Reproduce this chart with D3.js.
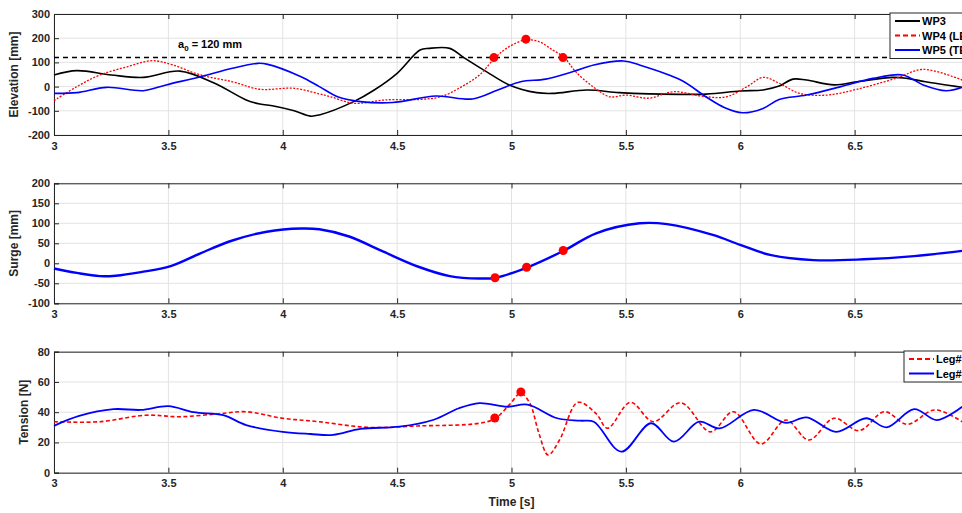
<!DOCTYPE html>
<html lang="en">
<head>
<meta charset="utf-8">
<title>Elevation, surge and tension</title>
<style>
  body { margin: 0; background: #fff; }
  svg { font-family: "Liberation Sans", Arial, sans-serif; font-weight: bold; }
</style>
</head>
<body>
<svg id="chart" width="962" height="513"></svg>
<script src="https://d3js.org/d3.v7.min.js"></script>
<script>
// ---- data ----
const xTicks = [3, 3.5, 4, 4.5, 5, 5.5, 6, 6.5, 7];

const wp3T = [3.0, 3.10, 3.25, 3.39, 3.55, 3.70, 3.84, 3.90, 3.96, 4.05, 4.12, 4.16, 4.31, 4.40, 4.50, 4.60, 4.64, 4.73, 4.79, 4.89, 4.99, 5.11, 5.18, 5.33, 5.47, 5.60, 5.85, 6.00, 6.10, 6.17, 6.23, 6.29, 6.41, 6.51, 6.67, 6.73, 6.81, 6.97];
const wp3V = [48, 66, 48, 38, 64, 15, -55, -72, -80, -100, -122, -117, -62, -14, 55, 151, 158, 158, 121, 62, 7, -25, -28, -14, -25, -30, -31, -18, -14, 2, 31, 27, 7, 20, 38, 34, 20, -3];

const wp4T = [3.0, 3.10, 3.20, 3.32, 3.43, 3.52, 3.64, 3.78, 3.90, 4.05, 4.16, 4.21, 4.31, 4.45, 4.60, 4.69, 4.77, 4.86, 4.93, 4.99, 5.06, 5.12, 5.18, 5.23, 5.28, 5.36, 5.43, 5.50, 5.60, 5.71, 5.85, 5.94, 6.03, 6.10, 6.17, 6.26, 6.38, 6.51, 6.68, 6.80, 6.97];
const wp4V = [-58, 0, 48, 82, 107, 89, 48, 20, -11, -7, -30, -42, -69, -55, -53, -42, -7, 48, 121, 165, 193, 186, 151, 121, 62, -3, -42, -35, -48, -21, -42, -42, 0, 38, 14, -28, -35, -11, 34, 71, 27];

const wp5T = [3.0, 3.10, 3.23, 3.39, 3.49, 3.64, 3.78, 3.89, 3.93, 4.08, 4.16, 4.24, 4.34, 4.48, 4.67, 4.83, 4.94, 5.04, 5.15, 5.27, 5.36, 5.49, 5.56, 5.74, 5.85, 5.93, 6.01, 6.10, 6.17, 6.29, 6.44, 6.58, 6.71, 6.80, 6.90, 6.97];
const wp5V = [-28, -25, -3, -17, 7, 41, 76, 96, 93, 41, 0, -42, -62, -66, -39, -51, -14, 20, 31, 62, 89, 106, 89, 27, -42, -86, -108, -90, -53, -35, 0, 34, 48, 7, -17, -3];

const surgeT = [3.0, 3.10, 3.20, 3.27, 3.38, 3.51, 3.64, 3.78, 3.93, 4.08, 4.16, 4.29, 4.44, 4.59, 4.73, 4.86, 4.93, 5.07, 5.23, 5.37, 5.56, 5.68, 5.88, 6.00, 6.13, 6.32, 6.54, 6.76, 6.97];
const surgeV = [-13, -24, -32, -31, -22, -7, 25, 57, 79, 87, 85, 67, 29, -8, -32, -38, -36, -10, 32, 75, 100, 98, 71, 46, 21, 8, 10, 18, 31];
const surgeMarkT = [4.928, 5.066, 5.226];
const surgeMarkV = [-36, -10, 32];

const elevMarkT = [4.923, 5.063, 5.225];
const elevMarkV = [120, 196, 120];
const a0 = 120;

const leg3T = [3.0, 3.20, 3.40, 3.55, 3.71, 3.84, 4.00, 4.16, 4.37, 4.59, 4.86, 4.93, 4.99, 5.04, 5.08, 5.12, 5.16, 5.21, 5.29, 5.37, 5.42, 5.52, 5.62, 5.74, 5.87, 5.97, 6.09, 6.20, 6.30, 6.41, 6.52, 6.63, 6.73, 6.85, 6.97];
const leg3V = [33.7, 33.7, 38, 37, 38.8, 40.3, 36, 33.7, 30, 30.9, 32.7, 36, 44.8, 52.5, 46, 26, 11.7, 21.6, 46.5, 39, 29.4, 46.5, 33.7, 46.3, 27, 40.3, 19, 34.8, 21.6, 36, 27.8, 40.3, 32, 41.5, 33.7];

const leg4T = [3.0, 3.11, 3.26, 3.38, 3.50, 3.61, 3.74, 3.84, 4.00, 4.12, 4.22, 4.34, 4.51, 4.66, 4.77, 4.86, 4.98, 5.07, 5.20, 5.30, 5.36, 5.48, 5.61, 5.71, 5.82, 5.91, 6.06, 6.20, 6.29, 6.42, 6.55, 6.64, 6.76, 6.86, 6.97];
const leg4V = [31, 37.5, 42, 41.5, 44, 40, 38, 31.5, 27, 25.6, 25, 29, 30.4, 35, 42.6, 46, 43.6, 45, 36, 34.4, 33.7, 13.9, 32.7, 20.5, 33.7, 29.3, 41.5, 33, 36.6, 27, 36, 30, 42, 34.8, 43.6];
const tensMarkT = [4.927, 5.041];
const tensMarkV = [36.2, 53.4];

// ---- layout ----
const svg = d3.select("#chart");
const x = d3.scaleLinear().domain([3, 7]).range([54, 969]);
const frame = "#262626";
const grid = "#e3e3e3";

function zip(ts, vs) { return ts.map((t, i) => [t, vs[i]]); }

function panel(domain, range, yTicks, label, labelX) {
  const y = d3.scaleLinear().domain(domain).range(range);
  const g = svg.append("g");
  // grid
  g.selectAll(".gx").data(xTicks).enter().append("line")
    .attr("x1", d => x(d)).attr("x2", d => x(d))
    .attr("y1", range[1]).attr("y2", range[0])
    .attr("stroke", grid).attr("stroke-width", 1);
  g.selectAll(".gy").data(yTicks).enter().append("line")
    .attr("x1", x.range()[0]).attr("x2", x.range()[1])
    .attr("y1", d => y(d)).attr("y2", d => y(d))
    .attr("stroke", grid).attr("stroke-width", 1);
  // axes (the last x label falls outside the window, as in the original crop)
  g.append("g").attr("transform", "translate(0," + range[0] + ")")
    .call(d3.axisBottom(x).tickValues(xTicks).tickFormat(d => d < 7 ? d : "").tickSize(-5).tickPadding(7));
  g.append("g").attr("transform", "translate(0," + range[1] + ")")
    .call(d3.axisTop(x).tickValues(xTicks).tickFormat("").tickSize(-5));
  g.append("g").attr("transform", "translate(" + x.range()[0] + ",0)")
    .call(d3.axisLeft(y).tickValues(yTicks).tickFormat(d => d).tickSize(-5).tickPadding(4));
  g.append("g").attr("transform", "translate(" + x.range()[1] + ",0)")
    .call(d3.axisRight(y).tickValues(yTicks).tickFormat("").tickSize(-5));
  g.selectAll(".domain").attr("stroke", frame);
  g.selectAll(".tick line").attr("stroke", frame);
  g.selectAll(".tick text").attr("fill", frame).style("font-size", "11px")
    .style("font-family", "Liberation Sans, Arial, sans-serif").style("font-weight", "bold");
  svg.append("text")
    .attr("transform", "translate(" + labelX + "," + (range[0] + range[1]) / 2 + ") rotate(-90)")
    .attr("text-anchor", "middle").attr("fill", frame)
    .style("font-size", "12px").text(label);
  return y;
}

function series(y, ts, vs, color, width, dash) {
  const line = d3.line().x(d => x(d[0])).y(d => y(d[1])).curve(d3.curveCatmullRom.alpha(0.5));
  const p = svg.append("path").datum(zip(ts, vs))
    .attr("fill", "none").attr("stroke", color).attr("stroke-width", width)
    .attr("d", line);
  if (dash) p.attr("stroke-dasharray", dash);
}

function markers(y, ts, vs) {
  svg.selectAll(null).data(zip(ts, vs)).enter().append("circle")
    .attr("cx", d => x(d[0])).attr("cy", d => y(d[1])).attr("r", 4.5).attr("fill", "#ff0000");
}

function legend(x0, y0, w, rows) {
  const g = svg.append("g");
  g.append("rect").attr("x", x0).attr("y", y0).attr("width", w).attr("height", rows.length * 14.5 + 2)
    .attr("fill", "#fff").attr("stroke", frame).attr("stroke-width", 1);
  rows.forEach((r, i) => {
    const yy = y0 + 8 + i * 14.5;
    const l = g.append("line").attr("x1", x0 + 5).attr("x2", x0 + 30).attr("y1", yy).attr("y2", yy)
      .attr("stroke", r.color).attr("stroke-width", 2);
    if (r.dash) l.attr("stroke-dasharray", r.dash);
    g.append("text").attr("x", x0 + 32).attr("y", yy + 4).attr("fill", "#000")
      .style("font-size", "11px").text(r.name);
  });
}

// ---- panel 1: elevation ----
const y1 = panel([-200, 300], [135, 14], [-200, -100, 0, 100, 200, 300], "Elevation [mm]", 18);
svg.append("line").attr("x1", x(3)).attr("x2", x(7)).attr("y1", y1(a0)).attr("y2", y1(a0))
  .attr("stroke", "#000").attr("stroke-width", 1.5).attr("stroke-dasharray", "5,4");
const a0Text = svg.append("text").attr("x", 178).attr("y", 48).attr("fill", "#000").style("font-size", "11px");
a0Text.append("tspan").text("a");
a0Text.append("tspan").attr("dy", 3).style("font-size", "8px").text("0");
a0Text.append("tspan").attr("dy", -3).text(" = " + a0 + " mm");
series(y1, wp3T, wp3V, "#000", 1.6);
series(y1, wp4T, wp4V, "#ff0000", 1.3, "2,1.5");
series(y1, wp5T, wp5V, "#0000ff", 1.6);
markers(y1, elevMarkT, elevMarkV);
legend(890, 13, 100, [
  {name: "WP3", color: "#000"},
  {name: "WP4 (LE)", color: "#ff0000", dash: "5,3"},
  {name: "WP5 (TE)", color: "#0000ff"}
]);

// ---- panel 2: surge ----
const y2 = panel([-100, 200], [303.3, 183.3], [-100, -50, 0, 50, 100, 150, 200], "Surge [mm]", 18);
series(y2, surgeT, surgeV, "#0000ff", 2.4);
markers(y2, surgeMarkT, surgeMarkV);

// ---- panel 3: tension ----
const y3 = panel([0, 80], [472.7, 351.7], [0, 20, 40, 60, 80], "Tension [N]", 28);
series(y3, leg3T, leg3V, "#ff0000", 1.6, "4,2.5");
series(y3, leg4T, leg4V, "#0000ff", 1.8);
markers(y3, tensMarkT, tensMarkV);
legend(904, 351, 90, [
  {name: "Leg#3", color: "#ff0000", dash: "5,3"},
  {name: "Leg#4", color: "#0000ff"}
]);

svg.append("text").attr("x", 511.5).attr("y", 506).attr("text-anchor", "middle").attr("fill", frame)
  .style("font-size", "12px").text("Time [s]");
</script>
</body>
</html>
